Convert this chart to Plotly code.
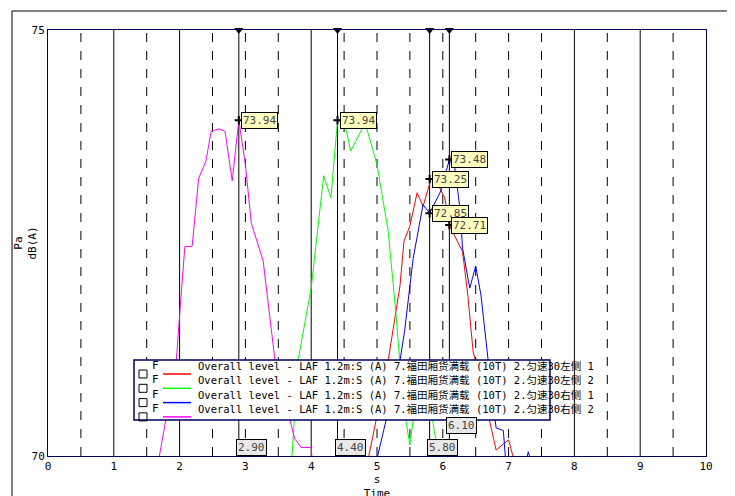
import plotly.graph_objects as go

# series (time s, level dB(A))
red_t = [4.85, 5.17, 5.35, 5.41, 5.5, 5.61, 5.7, 5.82, 5.93, 6.03, 6.1, 6.3, 6.38, 6.46, 6.6, 6.72, 6.81, 7.0, 7.1]
red_v = [69.9, 71.12, 72.0, 72.52, 72.7, 73.09, 72.93, 73.25, 73.18, 73.03, 72.71, 72.4, 71.89, 71.23, 70.8, 70.36, 70.07, 70.19, 69.9]
green_t = [3.7, 3.8, 4.0, 4.19, 4.3, 4.4, 4.51, 4.6, 4.82, 5.0, 5.17, 5.29, 5.4, 5.5, 5.65, 5.85, 5.95]
green_v = [69.9, 71.12, 71.97, 73.29, 73.03, 73.94, 73.91, 73.58, 73.91, 73.42, 72.64, 71.65, 70.6, 70.13, 71.0, 70.4, 69.9]
blue_t = [4.98, 5.12, 5.35, 5.42, 5.55, 5.7, 5.8, 5.97, 6.1, 6.18, 6.26, 6.3, 6.41, 6.5, 6.58, 6.69, 6.81, 6.92, 6.96, 7.25, 7.3, 7.35]
blue_v = [69.9, 70.36, 71.12, 71.47, 72.32, 72.95, 72.85, 73.11, 73.48, 73.4, 72.91, 72.44, 71.97, 72.23, 71.89, 71.12, 70.33, 70.3, 69.9, 69.9, 70.05, 69.9]
mag_t = [1.67, 1.95, 2.0, 2.08, 2.19, 2.29, 2.4, 2.48, 2.6, 2.69, 2.8, 2.9, 3.0, 3.09, 3.27, 3.34, 3.45, 3.75, 3.85, 4.0, 4.02]
mag_v = [69.9, 71.12, 71.65, 72.46, 72.46, 73.26, 73.46, 73.81, 73.84, 73.81, 73.23, 73.94, 73.42, 72.73, 72.29, 71.85, 71.12, 70.2, 70.1, 70.1, 69.9]

names = ["2.匀速30左侧 1", "2.匀速30左侧 2", "2.匀速30右侧 1", "2.匀速30右侧 2"]
colors = ["#ff0000", "#00ff00", "#0000ff", "#ff00ff"]
cursors = [2.9, 4.4, 5.8, 6.1]
peak_t = [2.9, 4.4, 5.8, 5.8, 6.1, 6.1]
peak_v = [73.94, 73.94, 73.25, 72.85, 73.48, 72.71]
solid_x = [1, 2, 4, 8, 9]
dash_x = [0.5, 1.5, 2.5, 3, 3.5, 4.5, 5, 5.5, 6, 6.5, 7, 7.5, 8.5, 9.5]

FONT = "DejaVu Sans Mono, Noto Sans CJK SC"
W, H = 658.0, 426.0  # plot area in px


def px(x):
    return (x - 40) / W


def py(y):
    return (448 - y) / H


fig = go.Figure()
for t, v, n, c in zip([red_t, green_t, blue_t, mag_t], [red_v, green_v, blue_v, mag_v], names, colors):
    fig.add_trace(go.Scatter(x=t, y=v, mode="lines", line=dict(color=c, width=1), name=n, showlegend=False))

shapes = []
for x in solid_x + cursors:
    shapes.append(dict(type="line", x0=x, x1=x, y0=70, y1=75, line=dict(color="black", width=1), layer="below"))
for x in dash_x:
    shapes.append(dict(type="line", x0=x, x1=x, y0=70, y1=75, line=dict(color="black", width=1, dash="dash"), layer="below"))
shapes.append(dict(type="rect", xref="paper", yref="paper", x0=px(4), x1=px(731), y0=py(492), y1=py(3),
                   line=dict(color="black", width=1)))

fig.add_trace(go.Scatter(x=peak_t, y=peak_v, mode="markers", marker=dict(symbol="cross-thin", size=6, line=dict(color="black", width=2)),
                         showlegend=False))
fig.add_trace(go.Scatter(x=cursors, y=[75] * 4, mode="markers", cliponaxis=False,
                         marker=dict(symbol="triangle-down", size=8, color="black"), showlegend=False))

ann = []
for t, v in zip(peak_t, peak_v):
    ann.append(dict(x=t, y=v, text="%.2f" % v, showarrow=False, xanchor="left", xshift=2,
                    bgcolor="#ffffc0", bordercolor="black", borderwidth=1, borderpad=1, font=dict(size=11, color="#444")))
for t in cursors:
    ann.append(dict(x=t, y=70, text="%.2f" % t, showarrow=False, xanchor="left", yanchor="bottom", xshift=-3,
                    yshift=(22 if t == 6.1 else 0), bgcolor="#e8e8e8", bordercolor="black", borderwidth=1, borderpad=1,
                    font=dict(size=11, color="#444")))
ann.append(dict(xref="paper", yref="paper", x=-0.012, y=0.5, text="Pa<br>dB(A)", textangle=-90, showarrow=False,
                xanchor="right", font=dict(size=11)))

# hand drawn legend box
shapes.append(dict(type="rect", xref="paper", yref="paper", x0=px(126), x1=px(542), y0=py(412), y1=py(352),
                   fillcolor="white", line=dict(color="#000060", width=1.5), layer="above"))
for i, (n, c) in enumerate(zip(names, colors)):
    yy = 366 + i * 14.3
    shapes.append(dict(type="rect", xref="paper", yref="paper", x0=px(131), x1=px(139), y0=py(yy + 4), y1=py(yy - 4),
                       line=dict(color="black", width=1), layer="above"))
    shapes.append(dict(type="line", xref="paper", yref="paper", x0=px(155), x1=px(183), y0=py(yy), y1=py(yy),
                       line=dict(color=c, width=1.5), layer="above"))
    ann.append(dict(xref="paper", yref="paper", x=px(142), y=py(yy), text="F", showarrow=False, xanchor="left",
                    font=dict(size=11)))
    ann.append(dict(xref="paper", yref="paper", x=px(188), y=py(yy), showarrow=False, xanchor="left",
                    text="Overall level - LAF 1.2m:S (A) 7.福田厢货满载 (10T) " + n, font=dict(size=10.5)))

fig.update_layout(
    width=735, height=496, margin=dict(l=40, r=37, t=22, b=48),
    plot_bgcolor="white", paper_bgcolor="white", font=dict(family=FONT, size=11, color="black"),
    shapes=shapes, annotations=ann, showlegend=False,
    xaxis=dict(range=[0, 10], dtick=1, showgrid=False, zeroline=False, showline=True, linecolor="#000060",
               mirror=True, ticks="", automargin=False, title=dict(text="s<br>Time", standoff=2, font=dict(size=11))),
    yaxis=dict(range=[70, 75], tickvals=[70, 75], showgrid=False, zeroline=False, showline=True,
               linecolor="#000060", mirror=True, ticks="", automargin=False),
)
fig.write_html("out.html")
